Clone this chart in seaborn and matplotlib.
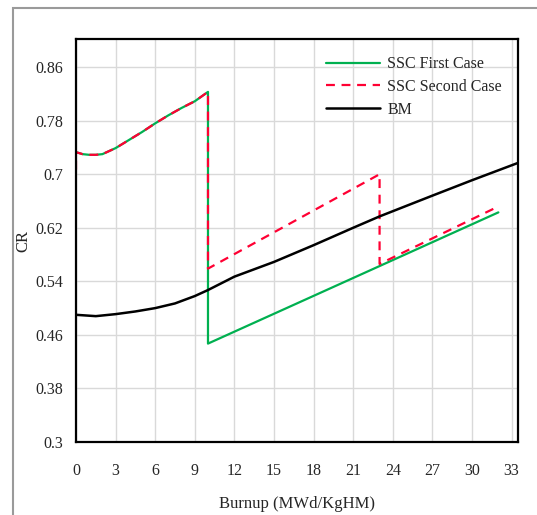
import numpy as np
import pandas as pd
import matplotlib
matplotlib.use('Agg')
import matplotlib.pyplot as plt
import seaborn as sns
from matplotlib.patches import Rectangle

# dane
first_x = [0, 0.5, 1, 1.5, 2, 3, 4, 5, 6, 7, 8, 9, 10, 10, 32]
first_y = [0.733, 0.730, 0.729, 0.729, 0.730, 0.739, 0.751, 0.763, 0.776, 0.788, 0.799, 0.809, 0.823, 0.447, 0.643]

second_x = [0, 0, 0.5, 1, 1.5, 2, 3, 4, 5, 6, 7, 8, 9, 10, 10, 23, 23, 31.7]
second_y = [0.707, 0.733, 0.730, 0.729, 0.729, 0.730, 0.739, 0.751, 0.763, 0.776, 0.788, 0.799, 0.809, 0.823,
            0.559, 0.700, 0.566, 0.649]

bm_x = [0, 1.5, 3, 4.5, 6, 7.5, 9, 10, 12, 15, 18, 21, 23, 27, 30, 33.5]
bm_y = [0.490, 0.488, 0.491, 0.495, 0.500, 0.507, 0.518, 0.527, 0.547, 0.569, 0.594, 0.620, 0.637, 0.668, 0.691, 0.717]

x_ticks = list(range(0, 34, 3))
y_ticks = [0.3, 0.38, 0.46, 0.54, 0.62, 0.7, 0.78, 0.86]
y_labels = ['0.3', '0.38', '0.46', '0.54', '0.62', '0.7', '0.78', '0.86']

sns.set_style('white')
plt.rcParams['font.family'] = ['Liberation Serif', 'DejaVu Serif']

fig = plt.figure(figsize=(5.37, 5.15), dpi=100)
ax = fig.add_axes([76 / 537, 1 - 442 / 515, (517.5 - 76) / 537, (442 - 39) / 515])

# ramka wokół całego rysunku
fig.patches.append(Rectangle((13 / 537, -0.01), 1.0, 1 - 8 / 515 + 0.01, transform=fig.transFigure,
                             fill=False, edgecolor='#9a9a9a', linewidth=1.5))

df1 = pd.DataFrame({'x': first_x, 'y': first_y})
df2 = pd.DataFrame({'x': second_x, 'y': second_y})
df3 = pd.DataFrame({'x': bm_x, 'y': bm_y})

sns.lineplot(data=df1, x='x', y='y', sort=False, estimator=None, errorbar=None, ax=ax,
             color='#00b050', linewidth=1.6, label='SSC First Case')
sns.lineplot(data=df2, x='x', y='y', sort=False, estimator=None, errorbar=None, ax=ax,
             color='#ff0033', linewidth=1.6, linestyle=(0, (4, 3)), label='SSC Second Case')
sns.lineplot(data=df3, x='x', y='y', sort=False, estimator=None, errorbar=None, ax=ax,
             color='black', linewidth=1.8, label='BM')

ax.set_xlim(0, 33.45)
ax.set_ylim(0.3, 0.902)
ax.set_xticks(x_ticks)
ax.set_yticks(y_ticks)
ax.set_yticklabels(y_labels)
ax.grid(True, color='#d9d9d9', linewidth=1.0)
ax.tick_params(axis='both', length=0, labelsize=11.5)
ax.tick_params(axis='x', pad=15)
ax.tick_params(axis='y', pad=9)
for s in ax.spines.values():
    s.set_color('black')
    s.set_linewidth(1.6)

ax.set_xlabel('Burnup (MWd/KgHM)', fontsize=12, labelpad=12)
ax.set_ylabel('CR', fontsize=12, labelpad=3)

leg = ax.legend(loc='upper right', frameon=False, fontsize=11.5, handlelength=3.4,
                handletextpad=0.45, labelspacing=0.42, borderaxespad=0.3, bbox_to_anchor=(0.99, 0.985))

fig.savefig('out.png', dpi=100)
